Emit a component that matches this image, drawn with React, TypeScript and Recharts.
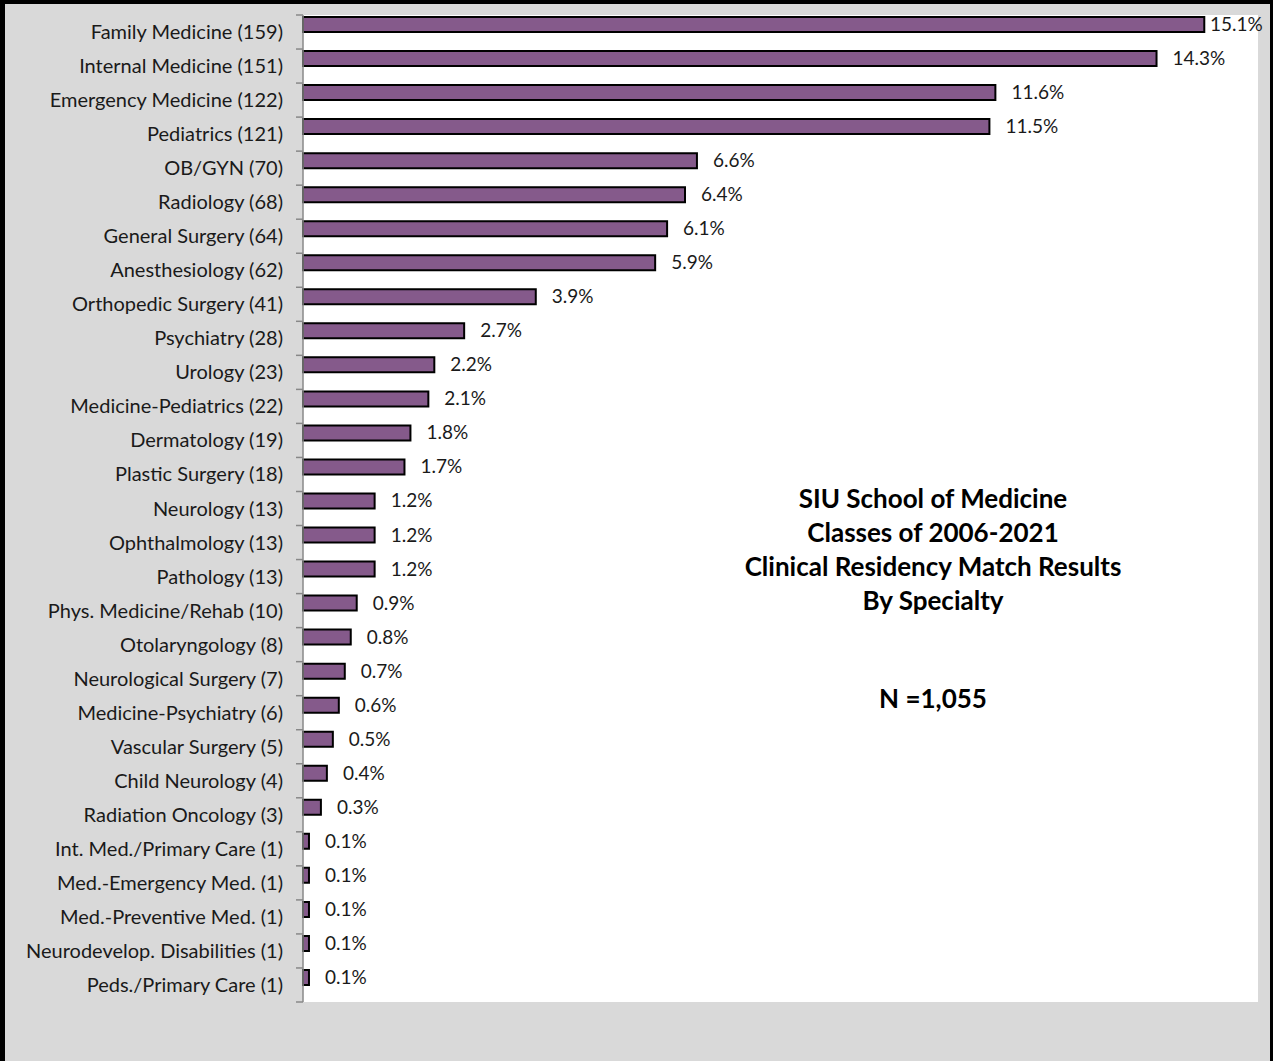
import React from 'react';
import { BarChart, Bar, XAxis, YAxis, CartesianGrid, LabelList } from 'recharts';

const specialties = [
  'Family Medicine', 'Internal Medicine', 'Emergency Medicine', 'Pediatrics', 'OB/GYN',
  'Radiology', 'General Surgery', 'Anesthesiology', 'Orthopedic Surgery', 'Psychiatry',
  'Urology', 'Medicine-Pediatrics', 'Dermatology', 'Plastic Surgery', 'Neurology',
  'Ophthalmology', 'Pathology', 'Phys. Medicine/Rehab', 'Otolaryngology', 'Neurological Surgery',
  'Medicine-Psychiatry', 'Vascular Surgery', 'Child Neurology', 'Radiation Oncology',
  'Int. Med./Primary Care', 'Med.-Emergency Med.', 'Med.-Preventive Med.',
  'Neurodevelop. Disabilities', 'Peds./Primary Care',
];
const counts = [159, 151, 122, 121, 70, 68, 64, 62, 41, 28, 23, 22, 19, 18, 13, 13, 13, 10, 8, 7, 6, 5, 4, 3, 1, 1, 1, 1, 1];
const percents = [15.1, 14.3, 11.6, 11.5, 6.6, 6.4, 6.1, 5.9, 3.9, 2.7, 2.2, 2.1, 1.8, 1.7, 1.2, 1.2, 1.2, 0.9, 0.8, 0.7, 0.6, 0.5, 0.4, 0.3, 0.1, 0.1, 0.1, 0.1, 0.1];
const titleLines = ['SIU School of Medicine', 'Classes of 2006-2021', 'Clinical Residency Match Results', 'By Specialty'];
const totalLabel = 'N =1,055';

const data = specialties.map((s, i) => ({
  name: `${s} (${counts[i]})`,
  pct: percents[i],
  spacer: 0,
}));

const W = 1265;
const H = 1057;
const MARGIN = { top: 11, right: 12, bottom: 59, left: 0 };
const AXIS_W = 298;
const PLOT_RIGHT = W - MARGIN.right;
const BAND = (H - MARGIN.top - MARGIN.bottom) / data.length;
const FONT = 'Lato, "Open Sans", sans-serif';

const CategoryTick = (props: any) => {
  const { x, y, payload, index } = props;
  const ax = x + 20;
  return (
    <g>
      <line x1={ax - 7} x2={ax} y1={y - BAND / 2} y2={y - BAND / 2} stroke="#888" strokeWidth={1.5} />
      {index === data.length - 1 && (
        <line x1={ax - 7} x2={ax} y1={y + BAND / 2} y2={y + BAND / 2} stroke="#888" strokeWidth={1.5} />
      )}
      <text x={x} y={y} dy={7} textAnchor="end" fill="#1a1a1a" fontSize={20} fontFamily={FONT}>
        {payload.value}
      </text>
    </g>
  );
};

const PctLabel = (props: any) => {
  const { x, y, width, height, value } = props;
  const txt = `${Number(value).toFixed(1)}%`;
  const lx = Math.min(x + width + 16, PLOT_RIGHT - 48);
  return (
    <text x={lx} y={y + height / 2} dy={6.5} fill="#1a1a1a" fontSize={19} fontFamily={FONT}>
      {txt}
    </text>
  );
};

export default function App() {
  return (
    <div
      style={{
        position: 'absolute', left: 0, top: 0, width: W, height: H,
        background: '#d9d9d9', borderLeft: '5px solid #000', borderTop: '4px solid #000',
        borderRight: '3px solid #000', fontFamily: FONT,
      }}
    >
      <BarChart
        width={W} height={H} data={data} layout="vertical" margin={MARGIN}
        barCategoryGap={2} barGap={0}
      >
        <CartesianGrid fill="#fff" stroke="none" horizontal={false} vertical={false} />
        <XAxis type="number" domain={[0, 16]} hide />
        <YAxis
          type="category" dataKey="name" width={AXIS_W} interval={0}
          tickSize={7} tickMargin={13} tickLine={false}
          axisLine={{ stroke: '#888', strokeWidth: 1.5 }}
          tick={<CategoryTick />}
        />
        <Bar dataKey="pct" fill="#855a8b" stroke="#000" strokeWidth={2} isAnimationActive={false}>
          <LabelList dataKey="pct" content={<PctLabel />} />
        </Bar>
        <Bar dataKey="spacer" fill="none" isAnimationActive={false} />
      </BarChart>
      <div
        style={{
          position: 'absolute', left: 678, top: 477, width: 500, textAlign: 'center',
          fontWeight: 700, fontSize: 26, lineHeight: '34px', color: '#000',
        }}
      >
        {titleLines.map((t) => (
          <div key={t}>{t}</div>
        ))}
        <div style={{ marginTop: 64 }}>{totalLabel}</div>
      </div>
    </div>
  );
}
